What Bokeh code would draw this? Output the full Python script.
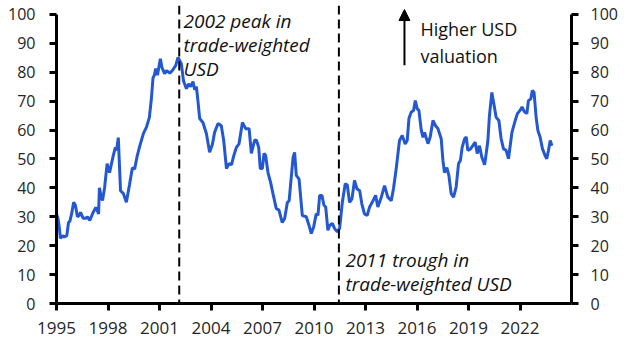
from bokeh.plotting import figure
from bokeh.models import Range1d, LinearAxis, Span, Arrow, NormalHead, Label, FixedTicker, ColumnDataSource
from bokeh.embed import file_html
from bokeh.resources import INLINE

# ---- data ----
years = [
    1995.00, 1995.08, 1995.15, 1995.23, 1995.35, 1995.45, 1995.60, 1995.70, 1995.78, 1995.88,
    1996.00, 1996.10, 1996.22, 1996.32, 1996.40, 1996.55, 1996.70, 1996.80, 1996.94,
    1997.13, 1997.29, 1997.39, 1997.45, 1997.50, 1997.60, 1997.68, 1997.80, 1997.95,
    1998.09, 1998.18, 1998.30, 1998.43, 1998.50, 1998.60, 1998.73, 1998.90,
    1999.07, 1999.25, 1999.42, 1999.55, 1999.70, 1999.83,
    2000.06, 2000.24, 2000.41, 2000.53, 2000.62, 2000.70, 2000.78, 2000.88,
    2001.05, 2001.15, 2001.30, 2001.42, 2001.60, 2001.75, 2001.94,
    2002.08, 2002.27, 2002.40, 2002.57, 2002.70, 2002.82, 2002.95,
    2003.05, 2003.15, 2003.24, 2003.34, 2003.53, 2003.73, 2003.92,
    2004.08, 2004.21, 2004.41, 2004.60, 2004.74, 2004.90,
    2005.05, 2005.19, 2005.33, 2005.48, 2005.63, 2005.83,
    2006.02, 2006.22, 2006.35, 2006.54, 2006.64, 2006.78, 2006.87, 2006.99,
    2007.09, 2007.18, 2007.32, 2007.47, 2007.61, 2007.80, 2007.96,
    2008.15, 2008.29, 2008.45, 2008.55, 2008.64, 2008.78, 2008.87, 2008.97,
    2009.13, 2009.32, 2009.55, 2009.71, 2009.84, 2009.98,
    2010.13, 2010.23, 2010.33, 2010.46, 2010.58, 2010.68, 2010.81, 2010.91,
    2011.07, 2011.20, 2011.36, 2011.49, 2011.65, 2011.82, 2011.94,
    2012.07, 2012.21, 2012.36, 2012.50, 2012.66, 2012.79, 2012.94,
    2013.10, 2013.24, 2013.39, 2013.59, 2013.72, 2013.92,
    2014.11, 2014.30, 2014.50, 2014.63, 2014.79, 2014.98,
    2015.14, 2015.31, 2015.43, 2015.53, 2015.66, 2015.80, 2015.90,
    2016.01, 2016.11, 2016.25, 2016.35, 2016.44, 2016.64, 2016.77, 2016.93,
    2017.08, 2017.22, 2017.41, 2017.51, 2017.60, 2017.74, 2017.86, 2017.99,
    2018.13, 2018.28, 2018.42, 2018.53, 2018.63, 2018.77, 2018.87, 2018.96,
    2019.12, 2019.25, 2019.39, 2019.51, 2019.64, 2019.78, 2019.94,
    2020.03, 2020.13, 2020.22, 2020.36, 2020.48, 2020.61, 2020.77, 2020.90,
    2021.04, 2021.19, 2021.33, 2021.53, 2021.72, 2021.85,
    2022.00, 2022.12, 2022.26, 2022.40, 2022.49, 2022.63, 2022.72, 2022.82, 2022.94,
    2023.04, 2023.17, 2023.31, 2023.46, 2023.56, 2023.66, 2023.76, 2023.86,
]
usd_valuation = [
    31.0, 29.5, 27.0, 22.5, 23.5, 23.0, 23.5, 28.0, 28.5, 31.0,
    35.0, 34.0, 30.0, 30.5, 31.5, 29.5, 29.5, 30.0, 28.7,
    31.5, 33.2, 32.0, 31.0, 40.0, 37.0, 35.6, 40.0, 48.4,
    45.3, 47.7, 51.0, 54.0, 53.0, 57.4, 39.0, 38.0,
    35.0, 41.0, 47.0, 46.5, 51.0, 54.0,
    58.8, 61.0, 64.4, 71.0, 78.0, 79.0, 81.3, 79.0,
    84.7, 81.5, 79.5, 80.6, 79.7, 80.6, 82.3,
    85.1, 83.0, 77.0, 74.3, 76.0, 75.0, 76.8,
    74.0, 75.0, 70.0, 64.0, 62.6, 58.8, 52.3,
    55.0, 59.2, 62.3, 61.5, 56.4, 46.7,
    48.4, 48.0, 51.2, 54.0, 55.2, 62.6,
    60.5, 60.5, 51.9, 56.4, 56.6, 54.0, 46.7, 46.7,
    51.9, 51.3, 45.3, 41.9, 38.0, 32.9, 32.3,
    28.0, 29.4, 35.0, 35.5, 41.4, 50.5, 52.3, 44.3,
    43.0, 30.4, 30.0, 27.0, 24.2, 26.5,
    31.0, 30.5, 37.4, 37.4, 34.0, 33.4, 25.3, 27.0,
    27.7, 25.9, 24.8, 26.0, 35.0, 41.4, 41.0,
    35.0, 36.2, 42.6, 39.7, 39.0, 34.4, 31.0,
    30.5, 33.4, 35.0, 37.4, 33.4, 36.8,
    40.8, 36.8, 35.6, 39.7, 46.7, 56.4,
    58.1, 55.2, 56.4, 64.0, 66.2, 66.8, 70.2,
    67.4, 66.8, 59.9, 57.5, 59.2, 55.3, 57.6, 63.3,
    61.5, 60.5, 57.0, 49.5, 45.3, 47.0, 44.2, 38.0,
    36.8, 40.3, 48.4, 49.5, 54.0, 56.9, 57.6, 53.0,
    53.5, 54.6, 55.8, 51.9, 54.6, 50.5, 48.0,
    51.9, 56.4, 65.0, 73.0, 68.9, 64.4, 63.3, 57.0,
    53.5, 53.0, 50.1, 59.2, 63.3, 65.7,
    66.8, 68.0, 66.3, 65.7, 70.2, 70.8, 73.7, 73.0, 64.4,
    59.9, 57.6, 53.5, 51.2, 50.1, 53.0, 56.4, 54.6,
]
event_years = [2002.15, 2011.45]
x_ticks = [1995, 1998, 2001, 2004, 2007, 2010, 2013, 2016, 2019, 2022]
y_ticks = [0, 10, 20, 30, 40, 50, 60, 70, 80, 90, 100]

FONT = "Open Sans"
TICK_COLOR = "#262626"

p = figure(width=627, height=358, frame_width=515, frame_height=298,
           x_range=Range1d(1995, 2025), y_range=Range1d(0, 103.1),
           output_backend="svg", toolbar_location=None,
           min_border_left=56, min_border_right=56, min_border_top=5, min_border_bottom=55)
p.outline_line_color = None
p.xgrid.visible = False
p.ygrid.visible = False
p.background_fill_color = "white"
p.border_fill_color = "white"

def style_axis(ax, standoff, size="16px"):
    ax.axis_line_width = 3
    ax.axis_line_color = "black"
    ax.major_tick_line_width = 3
    ax.major_tick_line_color = "black"
    ax.major_tick_out = 7
    ax.major_tick_in = 0
    ax.minor_tick_out = 0
    ax.minor_tick_in = 0
    ax.major_label_text_font = FONT
    ax.major_label_text_font_size = size
    ax.major_label_text_color = TICK_COLOR
    ax.major_label_standoff = standoff

p.xaxis.ticker = FixedTicker(ticks=x_ticks)
style_axis(p.xaxis[0], 11, "17px")
p.yaxis.ticker = FixedTicker(ticks=y_ticks)
p.yaxis.bounds = (0, 100)
style_axis(p.yaxis[0], 14)

ry = LinearAxis(ticker=FixedTicker(ticks=y_ticks), bounds=(0, 100))
style_axis(ry, 12)
p.add_layout(ry, "right")

src = ColumnDataSource(data=dict(x=years, y=usd_valuation))
p.line("x", "y", source=src, line_color="#2358d2", line_width=3)

for ey in event_years:
    p.add_layout(Span(location=ey, dimension="height", line_color="black",
                      line_width=2, line_dash="9 5"))

def label(x, y, text, italic=True):
    p.add_layout(Label(x=x, y=y, text=text, text_font=FONT,
                       text_font_style="italic" if italic else "normal",
                       text_font_size="19px" if italic else "18px",
                       text_color="#111111",
                       text_baseline="alphabetic", text_align="left"))

label(2002.4, 97.9, "2002 peak in")
label(2002.4, 89.6, "trade-weighted")
label(2002.4, 81.3, "USD")
label(2011.83, 14.9, "2011 trough in")
label(2011.83, 6.6, "trade-weighted USD")
label(2016.2, 94.8, "Higher USD", italic=False)
label(2016.2, 85.8, "valuation", italic=False)

p.add_layout(Arrow(x_start=2015.27, y_start=82.4, x_end=2015.27, y_end=101.7,
                   line_color="black", line_width=2,
                   end=NormalHead(size=11, fill_color="black", line_color="black")))

open("out.html", "w").write(file_html(p, INLINE))
